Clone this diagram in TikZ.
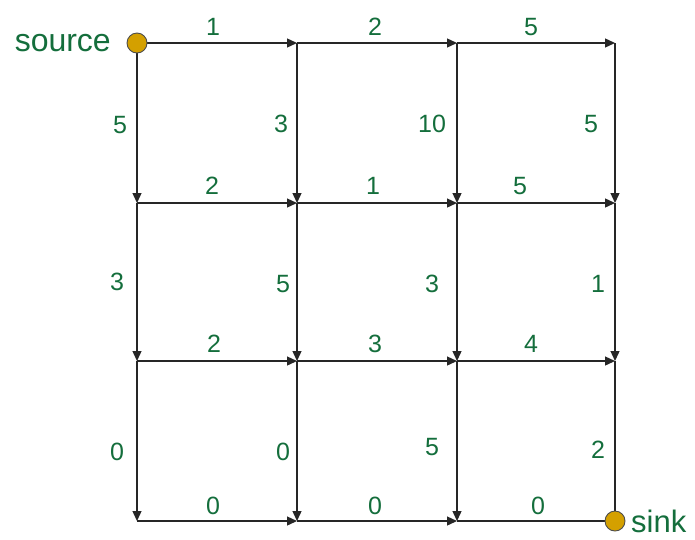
\documentclass[tikz,border=0pt]{standalone}
\usepackage{fontspec}
\setmainfont{Liberation Sans}
\usetikzlibrary{arrows.meta}
\definecolor{lblgreen}{RGB}{20,110,60}
\definecolor{dotfill}{RGB}{212,160,0}
\begin{document}
\begin{tikzpicture}[x=1pt,y=-1pt,
  edge/.style={draw=black!85,line width=1.3pt,-{Triangle[length=10pt,width=9pt]}},
  plain/.style={draw=black!85,line width=1.3pt},
  lbl/.style={text=lblgreen,font=\fontsize{25}{25}\selectfont,inner sep=0pt},
  biglbl/.style={text=lblgreen,font=\fontsize{32}{32}\selectfont,inner sep=0pt},
  dot/.style={circle,draw=black!70,line width=0.9pt,fill=dotfill,minimum size=20pt,inner sep=0pt}]
\useasboundingbox (0,0) rectangle (695,539);
% grid coordinates
\foreach \c/\x in {1/137,2/297,3/457,4/615}{
  \foreach \r/\y in {1/43,2/203,3/361,4/521}{
    \coordinate (n\r\c) at (\x,\y);
  }
}
% horizontal edges
\foreach \r in {1,2,3}{
  \draw[edge] (n\r1) -- (n\r2);
  \draw[edge] (n\r2) -- (n\r3);
  \draw[edge] (n\r3) -- (n\r4);
}
\draw[edge] (n41) -- (n42);
\draw[edge] (n42) -- (n43);
\draw[plain] (n43) -- (n44);
% vertical edges
\foreach \c in {1,2,3}{
  \draw[edge] (n1\c) -- (n2\c);
  \draw[edge] (n2\c) -- (n3\c);
  \draw[edge] (n3\c) -- (n4\c);
}
\draw[edge] (n14) -- (n24);
\draw[edge] (n24) -- (n34);
\draw[plain] (n34) -- (n44);
% source and sink
\node[dot] (src) at (n11) {};
\node[dot] (snk) at (n44) {};
\node[biglbl,anchor=east] (srclbl) at (111,43) {source};
\node[biglbl,anchor=west,font=\fontsize{31}{31}\selectfont] (snklbl) at (631,521) {sink};
% horizontal labels
\node[lbl] (h11) at (213,27) {1};
\node[lbl] (h12) at (375,27) {2};
\node[lbl] (h13) at (531,27) {5};
\node[lbl] (h21) at (212,186) {2};
\node[lbl] (h22) at (373,186) {1};
\node[lbl] (h23) at (520,186) {5};
\node[lbl] (h31) at (214,344) {2};
\node[lbl] (h32) at (375,344) {3};
\node[lbl] (h33) at (531,344) {4};
\node[lbl] (h41) at (213,506) {0};
\node[lbl] (h42) at (375,506) {0};
\node[lbl] (h43) at (538,506) {0};
% vertical labels
\node[lbl] (v11) at (120,125) {5};
\node[lbl] (v12) at (281,124) {3};
\node[lbl] (v13) at (432,124) {10};
\node[lbl] (v14) at (591,124) {5};
\node[lbl] (v21) at (117,282) {3};
\node[lbl] (v22) at (283,284) {5};
\node[lbl] (v23) at (432,284) {3};
\node[lbl] (v24) at (598,284) {1};
\node[lbl] (v31) at (117,452) {0};
\node[lbl] (v32) at (283,452) {0};
\node[lbl] (v33) at (432,447) {5};
\node[lbl] (v34) at (598,450) {2};
\end{tikzpicture}
\end{document}
